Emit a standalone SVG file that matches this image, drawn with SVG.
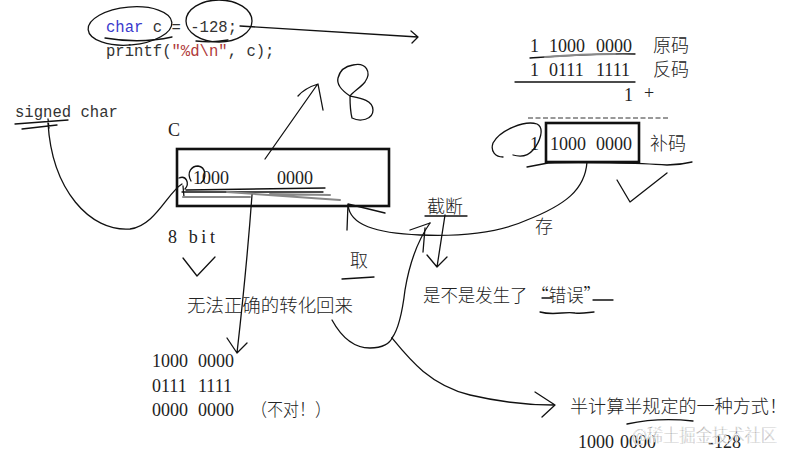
<svg xmlns="http://www.w3.org/2000/svg" width="792" height="458" viewBox="0 0 792 458">
<style>
.mono{font-family:"Liberation Mono","DejaVu Sans Mono",monospace;font-size:15.6px;fill:#333}
.ser{font-family:"Liberation Serif","DejaVu Serif",serif;font-size:18px;fill:#222}
.cjk{font-family:"Noto Sans CJK SC","Noto Sans CJK JP",sans-serif;font-weight:300;font-size:18px;fill:#222}
.ink{fill:none;stroke:#111;stroke-width:1.3;stroke-linecap:round;stroke-linejoin:round}
.gray{fill:none;stroke:#888;stroke-width:2;stroke-linecap:round}
.box{fill:none;stroke:#111;stroke-width:2.6}
</style>
<rect width="792" height="458" fill="#fff"/>

<g id="code">
<text class="mono" x="106" y="32"><tspan fill="#3a3acd">char</tspan> c = -128;</text>
<text class="mono" x="106" y="56">printf(<tspan fill="#b03a3a">"%d\n"</tspan>, c);</text>
</g>

<g id="signed-char">
<text class="mono" x="15" y="117">signed char</text>
</g>

<g id="c-box">
<text class="ser" x="168" y="136" font-size="17">C</text>
<rect class="box" x="177" y="149" width="212" height="57"/>
<text class="ser" x="193" y="184">1000</text>
<text class="ser" x="277" y="184">0000</text>
<text class="ser" x="168" y="243" textLength="47" lengthAdjust="spacing">8 bit</text>
</g>

<g id="table">
<text class="ser" x="530" y="52">1</text><text class="ser" x="549" y="52">1000</text><text class="ser" x="596" y="52">0000</text>
<text class="cjk" x="653" y="52" font-size="17.5">原码</text>
<text class="ser" x="530" y="76">1</text><text class="ser" x="549" y="76">0111</text><text class="ser" x="596" y="76">1111</text>
<text class="cjk" x="653" y="76" font-size="17.5">反码</text>
<text class="ser" x="624" y="101">1</text><text class="ser" x="644" y="99" font-size="14">+</text>
<line x1="528" y1="118" x2="670" y2="118" stroke="#333" stroke-width="1" stroke-dasharray="5,2.5"/>
<text class="ser" x="530" y="150">1</text>
<rect class="box" x="546" y="123" width="93" height="39"/>
<text class="ser" x="550" y="150">1000</text><text class="ser" x="596" y="150">0000</text>
<text class="cjk" x="650" y="150" font-size="17.5">补码</text>
</g>

<g id="labels">
<text class="cjk" x="427" y="213">截断</text>
<text class="cjk" x="350" y="267">取</text>
<text class="cjk" x="535" y="233" font-size="17">存</text>
<text class="cjk" x="187" y="312" textLength="166" lengthAdjust="spacingAndGlyphs">无法正确的转化回来</text>
<text class="cjk" x="423" y="302" textLength="178" lengthAdjust="spacingAndGlyphs">是不是发生了 “错误”</text>
<text class="ser" x="152" y="367">1000</text><text class="ser" x="198" y="367">0000</text>
<text class="ser" x="152" y="392">0111</text><text class="ser" x="198" y="392">1111</text>
<text class="ser" x="152" y="416">0000</text><text class="ser" x="198" y="416">0000</text>
<text class="cjk" x="251" y="416" font-size="16" textLength="80" lengthAdjust="spacingAndGlyphs">（不对！）</text>
<text class="cjk" x="570" y="413" textLength="217" lengthAdjust="spacingAndGlyphs">半计算半规定的一种方式！</text>
<text class="ser" x="578" y="448">1000</text><text class="ser" x="620" y="448">0000</text>
<text class="ser" x="708" y="448">-128</text>
<text class="cjk" x="632" y="442" font-size="16.5" fill="#c4c4c4" stroke="#fff" stroke-width="0.6" textLength="145" lengthAdjust="spacingAndGlyphs">@稀土掘金技术社区</text>
</g>

<g id="connectors">
<ellipse class="ink" cx="130" cy="26" rx="42" ry="19" transform="rotate(-5 130 26)"/>
<ellipse class="ink" cx="219" cy="21" rx="33" ry="21"/>
<path class="ink" d="M105,38 Q140,44 172,37"/>
<path class="ink" d="M196,41 Q212,43 228,40"/>
<path class="ink" d="M240,26 L418,37 M411,31 L418,37 L412,43"/>
<path class="ink" d="M353,65 C366,62 372,72 365,82 C360,88 353,92 350,96 C360,98 373,100 373,110 C373,120 360,122 352,118 C350,110 350,102 350,96 C344,92 336,86 338,78 C340,70 346,66 353,65"/>
<path class="ink" d="M265,159 L317,85 M298,96 Q305,88 318,84 L323,110"/>
<path class="ink" d="M15,124 L68,120 M22,129 L57,125 M48,119 L49,128"/>
<path class="ink" d="M48,123 C52,190 90,232 130,229 C155,226 168,192 182,184"/>
<path class="ink" d="M179,178 C186,175 190,183 185,189 M183,186 L184,197"/>
<path class="ink" d="M191,181 C186,172 192,166 198,166 C206,167 207,178 201,183"/>
<path class="ink" d="M182,192 L323,192 M186,190 L325,188"/>
<path class="gray" d="M227,192 L340,200 M183,197 L250,197 M270,194 L330,195"/>
<path class="ink" d="M252,195 C248,250 243,300 237,353 M227,338 L237,353 L247,343"/>
<path class="ink" d="M183,258 L197,276 L215,257"/>
<path class="ink" d="M347,230 L348,204 L385,213"/>
<path class="ink" d="M348,205 C350,225 375,233 420,235 C470,237 505,230 527,220 C565,205 585,190 587,162"/>
<path class="ink" d="M425,216 L467,216"/>
<path class="ink" d="M445,215 L437,267 M427,255 L437,267 L447,257"/>
<path class="ink" d="M430,223 C418,240 410,260 405,290 C402,315 398,330 392,338"/>
<path class="ink" d="M410,230 L430,223 M423,252 L425,228"/>
<path class="ink" d="M332,320 C343,340 355,348 370,348 C383,348 390,343 392,338"/>
<path class="ink" d="M392,338 C410,360 430,385 470,395 C500,402 530,405 553,405 M535,392 L555,405 L542,417"/>
<path class="ink" d="M342,279 L374,277"/>
<path class="ink" d="M542,298 L552,298 M593,300 L613,300"/>
<path class="ink" d="M540,312 C555,316 565,311 575,313 C583,314 590,312 594,312"/>
<path class="ink" d="M627,424 C650,419 675,419 693,421"/>
<path class="ink" d="M530,58 C560,56 600,53 635,54"/>
<path class="gray" d="M545,57 C570,55 590,54 615,54"/>
<path class="ink" d="M515,82 L635,82"/>
<path class="ink" d="M513,155 C520,157 528,156 533,150 C540,142 545,128 537,124 C525,120 500,130 493,143 C490,152 496,157 503,157"/>
<path class="ink" d="M527,167 L548,163 C580,162 640,163 667,165 C680,165 688,163 692,162"/>
<path class="ink" d="M617,180 L630,202 L667,173"/>
</g>
</svg>
